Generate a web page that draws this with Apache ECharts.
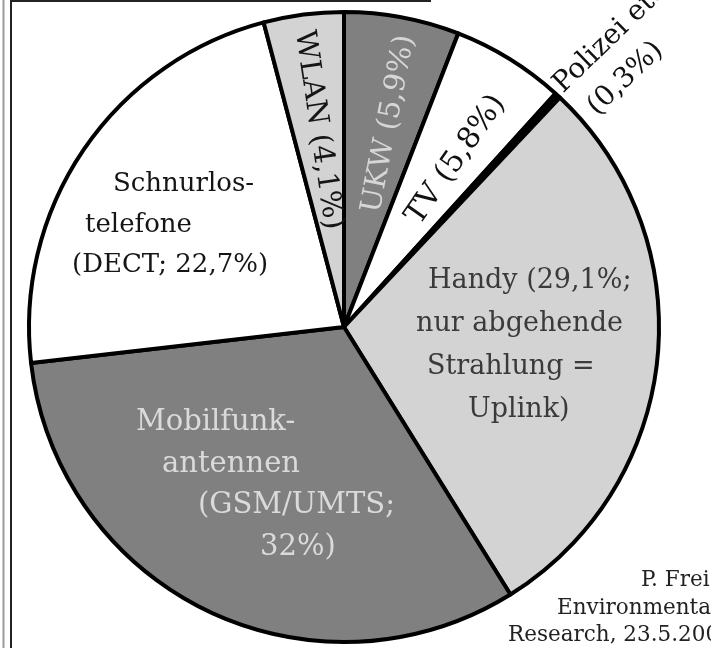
<!DOCTYPE html>
<html>
<head>
<meta charset="utf-8">
<script src="https://cdn.jsdelivr.net/npm/echarts@6/dist/echarts.min.js"></script>
<style>
  html, body { margin: 0; padding: 0; background: #fff; }
  #main { width: 711px; height: 648px; }
</style>
</head>
<body>
<div id="main"></div>
<script>
// Anteile der Strahlungsquellen, im Uhrzeigersinn ab 12 Uhr
var names = ['UKW', 'TV', 'Polizei etc.', 'Handy', 'Mobilfunkantennen', 'Schnurlostelefone', 'WLAN'];
var values = [5.9, 5.8, 0.3, 29.1, 32, 22.7, 4.1];
var sourceLines = ['P. Frei', 'Environmental', 'Research, 23.5.2009'];

function fmt(v) { return String(v).replace('.', ','); }

var labelLines = [
    [names[0] + ' (' + fmt(values[0]) + '%)'],
    [names[1] + ' (' + fmt(values[1]) + '%)'],
    ['Polizei etc.', '(' + fmt(values[2]) + '%)'],
    ['Handy (' + fmt(values[3]) + '%;', 'nur abgehende', 'Strahlung =', 'Uplink)'],
    ['Mobilfunk-', 'antennen', '(GSM/UMTS;', fmt(values[4]) + '%)'],
    ['Schnurlos-', 'telefone', '(DECT; ' + fmt(values[5]) + '%)'],
    [names[6] + ' (' + fmt(values[6]) + '%)']
];

var fills = ['#808080', '#ffffff', '#000000', '#d3d3d3', '#808080', '#ffffff', '#d3d3d3'];

// Lage der Beschriftungen
var labelCfg = [
    {x: 389, y: 124, rotate: 79, size: 29, color: '#d6d6d6', lh: 34, pads: [0], align: 'center', va: 'middle'},
    {x: 456, y: 160, rotate: 55, size: 30, color: '#111', lh: 34, pads: [0], align: 'center', va: 'middle'},
    {x: 544, y: 74, rotate: 44, size: 28, color: '#111', lh: 40, pads: [0, 9], align: 'left', va: 'top'},
    {x: 416, y: 259, rotate: 0, size: 27, color: '#3a3a3a', lh: 43, pads: [12, 0, 11, 52], align: 'left', va: 'top'},
    {x: 136, y: 402, rotate: 0, size: 29, color: '#dadada', lh: 41.5, pads: [0, 26, 62, 124], align: 'left', va: 'top'},
    {x: 72, y: 164, rotate: 0, size: 26, color: '#151515', lh: 40.5, pads: [41, 13, 0], align: 'left', va: 'top'},
    {x: 318, y: 130, rotate: -81.5, size: 29, color: '#151515', lh: 34, pads: [0], align: 'center', va: 'middle'}
];

var data = names.map(function (n, i) {
    var cfg = labelCfg[i];
    var rich = {};
    labelLines[i].forEach(function (t, k) {
        rich['l' + k] = {
            fontFamily: 'DejaVu Serif',
            fontSize: cfg.size,
            color: cfg.color,
            lineHeight: cfg.lh,
            padding: [0, 0, 0, cfg.pads[k] || 0]
        };
    });
    return {
        name: n,
        value: values[i],
        itemStyle: {color: fills[i]},
        label: {rich: rich}
    };
});

var chart = echarts.init(document.getElementById('main'));
var option = {
    backgroundColor: '#ffffff',
    animation: false,
    graphic: [
        {type: 'line', shape: {x1: 3.5, y1: 0, x2: 3.5, y2: 648}, style: {stroke: '#9a9a9a', lineWidth: 2}},
        {type: 'line', shape: {x1: 11, y1: 0, x2: 11, y2: 648}, style: {stroke: '#222', lineWidth: 2}},
        {type: 'line', shape: {x1: 11, y1: 1, x2: 431, y2: 1}, style: {stroke: '#222', lineWidth: 2}},
        {type: 'text', left: 641, top: 569, style: {text: sourceLines[0], font: '21.5px "DejaVu Serif"', fill: '#222'}},
        {type: 'text', left: 557, top: 597, style: {text: sourceLines[1], font: '21.5px "DejaVu Serif"', fill: '#222'}},
        {type: 'text', left: 508, top: 624, style: {text: sourceLines[2], font: '21.5px "DejaVu Serif"', fill: '#222'}}
    ],
    series: [{
        type: 'pie',
        center: [344, 327],
        radius: 315,
        startAngle: 90,
        clockwise: true,
        avoidLabelOverlap: false,
        emphasis: {disabled: true},
        itemStyle: {borderColor: '#000', borderWidth: 4},
        label: {
            show: true,
            position: 'inside',
            fontFamily: 'DejaVu Serif',
            formatter: function (p) {
                return labelLines[p.dataIndex].map(function (t, k) {
                    return '{l' + k + '|' + t + '}';
                }).join('\n');
            }
        },
        labelLine: {show: false},
        labelLayout: function (p) {
            var cfg = labelCfg[p.dataIndex];
            return {x: cfg.x, y: cfg.y, rotate: cfg.rotate, align: cfg.align, verticalAlign: cfg.va};
        },
        data: data
    }]
};
chart.setOption(option);
</script>
</body>
</html>
